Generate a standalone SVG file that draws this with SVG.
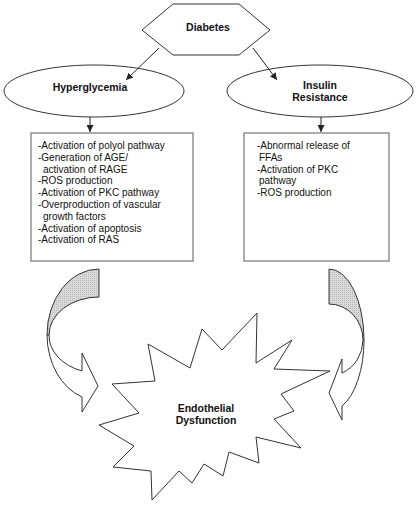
<svg xmlns="http://www.w3.org/2000/svg" width="420" height="506" viewBox="0 0 420 506">
<style>
.shape{fill:#fff;stroke:#333;stroke-width:1}
.box{fill:#fff;stroke:#808080;stroke-width:1.3}
.lbl{font-family:"Liberation Sans",Arial,sans-serif;font-size:10.5px;font-weight:bold;fill:#111;text-anchor:middle}
.body{font-family:"Liberation Sans",Arial,sans-serif;font-size:10px;fill:#111}
.conn{stroke:#222;stroke-width:1;fill:none}
.crescent{fill:url(#dots);stroke:#333;stroke-width:1}
</style>
<defs>
<marker id="ah" viewBox="0 0 10 10" refX="10" refY="5" markerWidth="7" markerHeight="7" orient="auto" markerUnits="userSpaceOnUse">
<path d="M0,0 L10,5 L0,10 Z" fill="#222"/>
</marker>
<pattern id="dots" width="2" height="2" patternUnits="userSpaceOnUse">
<rect width="2" height="2" fill="#dadada"/>
<rect width="1" height="1" fill="#b8b8b8"/>
</pattern>
</defs>
<g id="diabetes">
<polygon class="shape" points="173,4 239,4 270,30 239,55 173,55 142,30"/>
<text class="lbl" x="208" y="31">Diabetes</text>
</g>
<g id="hyperglycemia">
<ellipse class="shape" cx="94" cy="91" rx="90" ry="26"/>
<text class="lbl" x="90" y="91">Hyperglycemia</text>
</g>
<g id="insulin-resistance">
<ellipse class="shape" cx="320" cy="91" rx="93" ry="26"/>
<text class="lbl" x="320" y="89">Insulin</text>
<text class="lbl" x="320" y="101">Resistance</text>
</g>
<g id="hyper-box">
<rect class="box" x="31" y="133" width="162" height="128"/>
<text class="body" x="38" y="149">-Activation of polyol pathway</text>
<text class="body" x="38" y="160.8">-Generation of AGE/</text>
<text class="body" x="43" y="172.6">activation of RAGE</text>
<text class="body" x="38" y="184.4">-ROS production</text>
<text class="body" x="38" y="196.2">-Activation of PKC pathway</text>
<text class="body" x="38" y="208">-Overproduction of vascular</text>
<text class="body" x="43" y="219.8">growth factors</text>
<text class="body" x="38" y="231.6">-Activation of apoptosis</text>
<text class="body" x="38" y="243.4">-Activation of RAS</text>
</g>
<g id="insulin-box">
<rect class="box" x="244" y="133" width="145" height="128"/>
<text class="body" x="257" y="149">-Abnormal release of</text>
<text class="body" x="259" y="160.8">FFAs</text>
<text class="body" x="257" y="172.6">-Activation of PKC</text>
<text class="body" x="259" y="184.4">pathway</text>
<text class="body" x="257" y="196.2">-ROS production</text>
</g>
<g id="left-curved-arrow">
<path class="crescent" d="M99,269 A52,66 0 0 0 47,335 L49,335 A50,38 0 0 1 99,297 Z"/>
<path class="shape" d="M47,335 A52,66 0 0 0 82,397 L82,412 L98,386 L82,353 L82,371 A50,38 0 0 1 49,335 Z"/>
</g>
<g id="right-curved-arrow">
<path class="crescent" d="M329,269 A35,71 0 0 1 364,340 L363,340 A34,36 0 0 0 329,304 Z"/>
<path class="shape" d="M364,340 A35,71 0 0 1 342,406 L342,420 L329,393 L342,359 L342,373 A34,36 0 0 0 363,340 Z"/>
</g>
<g id="endothelial-dysfunction">
<polygon class="shape" points="257,313 256,363 292,340 274,369 330,371 281,394 294,411 274,419 301,448 256,437 259,463 229,452 223,476 204,464 192,483 179,471 152,500 151,471 113,467 134,446 99,425 139,413 112,384 155,381 148,344 190,368 202,329 222,350"/>
<text class="lbl" x="206" y="412">Endothelial</text>
<text class="lbl" x="206" y="424">Dysfunction</text>
</g>
<g id="connectors">
<line class="conn" x1="159" y1="48" x2="126" y2="80" marker-end="url(#ah)"/>
<line class="conn" x1="253" y1="48" x2="277" y2="80" marker-end="url(#ah)"/>
<line class="conn" x1="90" y1="117" x2="90" y2="132" marker-end="url(#ah)"/>
<line class="conn" x1="321" y1="117" x2="321" y2="132" marker-end="url(#ah)"/>
</g>
</svg>
